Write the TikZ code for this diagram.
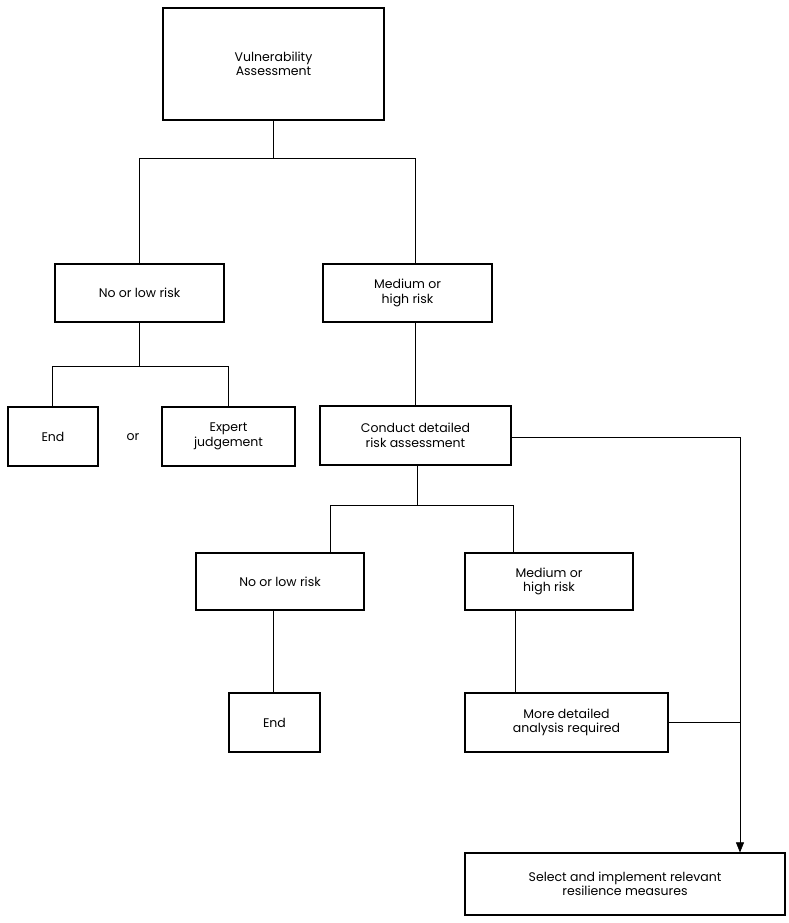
\documentclass[tikz,border=0pt]{standalone}
\usepackage{fontspec}
\setmainfont{Poppins}
\usetikzlibrary{arrows.meta}
\begin{document}
\begin{tikzpicture}[x=1pt,y=-1pt,
  box/.style={draw,line width=1.2pt,inner sep=0pt,align=center,font=\fontsize{12.5}{14.5}\selectfont},
  ln/.style={line width=0.6pt}]
\useasboundingbox (0,0) rectangle (788,923);
\node[box,minimum width=221,minimum height=112] (va) at (273.5,64) {Vulnerability\\Assessment};
\node[box,minimum width=169,minimum height=58] (nl1) at (139.5,293) {No or low risk};
\node[box,minimum width=169,minimum height=58] (mh1) at (407.5,293) {Medium or\\high risk};
\node[box,minimum width=90,minimum height=59] (end1) at (53,436.5) {End};
\node (or) at (133,437) {\fontsize{12.5}{14.5}\selectfont or};
\node[box,minimum width=133,minimum height=59] (ex) at (228.5,436.5) {Expert\\judgement};
\node[box,minimum width=191,minimum height=59] (cd) at (415.5,435.5) {Conduct detailed\\risk assessment};
\node[box,minimum width=168,minimum height=57] (nl2) at (280,581.5) {No or low risk};
\node[box,minimum width=168,minimum height=57] (mh2) at (549,581.5) {Medium or\\high risk};
\node[box,minimum width=91,minimum height=59] (end2) at (274.5,722.5) {End};
\node[box,minimum width=203,minimum height=59] (md) at (566.5,722.5) {More detailed\\analysis required};
\node[box,minimum width=320,minimum height=62] (sel) at (625,884) {Select and implement relevant\\resilience measures};
\coordinate (j1) at (273.5,158);
\coordinate (r1) at (415,264);
\coordinate (j2) at (139.5,366);
\coordinate (j3) at (417,505);
\coordinate (r3) at (513,553);
\coordinate (l3) at (330,553);
\coordinate (k) at (740,437);
\draw[ln] (va.south) -- (j1) -| (nl1.north);
\draw[ln] (j1) -| (r1);
\draw[ln] (mh1.south -| r1) -- (cd.north -| r1);
\draw[ln] (nl1.south) -- (j2) -| (end1.north -| 52,0);
\draw[ln] (j2) -| (ex.north -| 228,0);
\draw[ln] (cd.south -| j3) -- (j3) -| (l3);
\draw[ln] (j3) -| (r3);
\draw[ln] (nl2.south -| 273,0) -- (end2.north -| 273,0);
\draw[ln] (mh2.south -| 515,0) -- (md.north -| 515,0);
\draw[ln,-{Triangle[length=10pt,width=8pt]}] (cd.east |- k) -- (k) -- (sel.north -| k);
\draw[ln] (md.east) -- (md.east -| k);
\end{tikzpicture}
\end{document}
